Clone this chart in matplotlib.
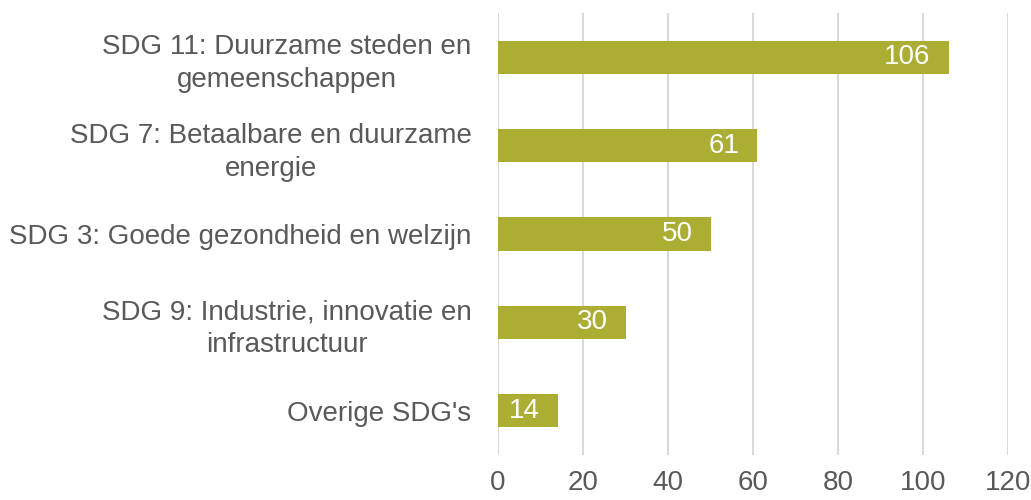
import matplotlib.pyplot as plt

categories = [
    "SDG 11: Duurzame steden en\ngemeenschappen",
    "SDG 7: Betaalbare en duurzame\nenergie",
    "SDG 3: Goede gezondheid en welzijn",
    "SDG 9: Industrie, innovatie en\ninfrastructuur",
    "Overige SDG's",
]
values = [106, 61, 50, 30, 14]
xticks = [0, 20, 40, 60, 80, 100, 120]

bar_color = "#ABAE33"
text_color = "#595959"

plt.rcParams['font.family'] = ['Liberation Sans', 'DejaVu Sans']

fig = plt.figure(figsize=(10.31, 5.0), dpi=100)
ax = fig.add_axes([0.483, 0.09, 0.495, 0.884])

pos = list(range(len(categories)))
bars = ax.barh(pos, values, height=0.375, color=bar_color, zorder=3)

for b, v in zip(bars, values):
    ax.annotate(str(v), xy=(b.get_width(), b.get_y() + b.get_height() / 2),
                xytext=(-13, 0), textcoords='offset points',
                ha='right', va='center', color='white', fontsize=20, zorder=4)

ax.set_xlim(0, 120)
ax.set_ylim(len(categories) - 0.5, -0.5)
ax.set_xticks(xticks)
ax.set_yticks(pos)
ax.set_yticklabels(categories)
for lbl in ax.get_yticklabels():
    lbl.set_multialignment('center')
    lbl.set_linespacing(1.35)

ax.tick_params(axis='both', length=0, labelsize=20, colors=text_color)
ax.tick_params(axis='y', pad=19)
ax.tick_params(axis='x', pad=11)

ax.grid(axis='x', color='#D9D9D9', linewidth=1.5, zorder=0)
for s in ax.spines.values():
    s.set_visible(False)

fig.savefig("out.png", dpi=100)
